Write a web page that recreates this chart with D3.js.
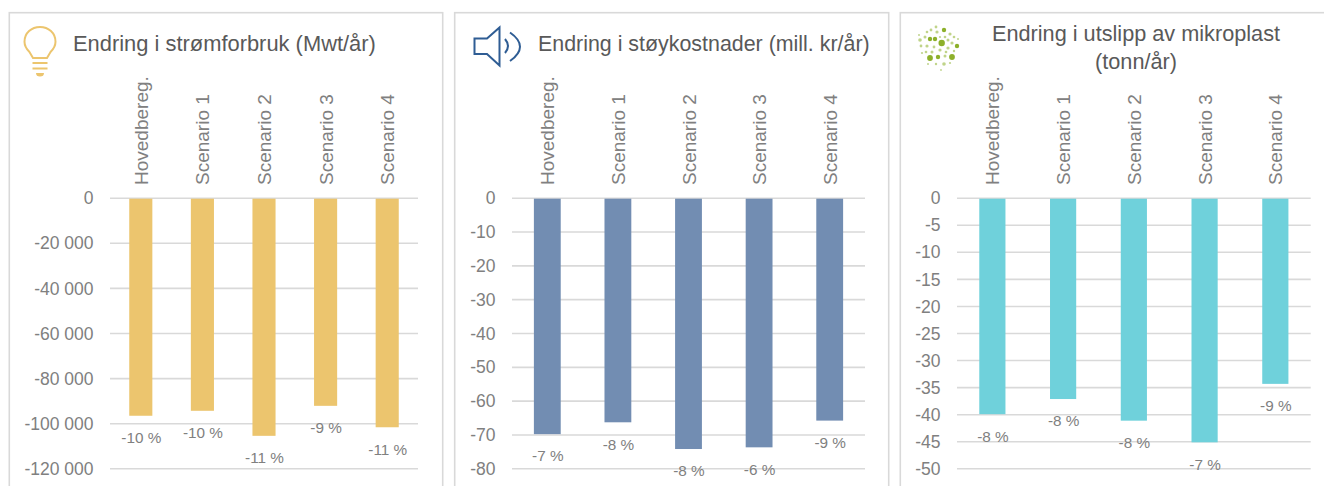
<!DOCTYPE html>
<html><head><meta charset="utf-8">
<script src="https://cdnjs.cloudflare.com/ajax/libs/d3/7.8.5/d3.min.js"></script>
<style>
html,body{margin:0;padding:0;background:#fff;overflow:hidden}
svg{display:block}
text{font-family:"Liberation Sans",Arial,sans-serif}
</style></head><body>
<svg id="c" width="1324" height="486">
<defs><filter id="soft" x="-10%" y="-10%" width="120%" height="120%"><feGaussianBlur stdDeviation="0.6"/></filter></defs>
</svg>
<script>
const categories = ["Hovedbereg.","Scenario 1","Scenario 2","Scenario 3","Scenario 4"];
const stromValues = [-96700,-94500,-105600,-92300,-101800];
const stoyValues = [-69.9,-66.4,-74.3,-73.8,-65.9];
const plastValues = [-40,-37.2,-41.2,-45.2,-34.4];
const stromPct = ["-10 %","-10 %","-11 %","-9 %","-11 %"];
const stoyPct = ["-7 %","-8 %","-8 %","-6 %","-9 %"];
const plastPct = ["-8 %","-8 %","-8 %","-7 %","-9 %"];
const stromTicks = [0,-20000,-40000,-60000,-80000,-100000,-120000];
const stoyTicks = [0,-10,-20,-30,-40,-50,-60,-70,-80];
const plastTicks = [0,-5,-10,-15,-20,-25,-30,-35,-40,-45,-50];

const svg = d3.select("#c");
const y0 = 197.7, y1 = 468.3;
const GRID="#D9D9D9", TICK="#808080", TITLE="#595959";
const fmt = v => d3.format(",")(v).replace(/,/g," ").replace("\u2212","-");

function panel(o){
  const g = svg.append("g");
  g.append("rect").attr("x",o.bx).attr("y",12.7).attr("width",o.bw).attr("height",520)
    .attr("fill","#fff").attr("stroke",GRID).attr("stroke-width",1.6);
  const x = d3.scaleBand().domain(categories).range([o.x0,o.x1]).paddingInner(o.pad).paddingOuter(o.pad/2);
  const y = d3.scaleLinear().domain([0,o.ticks[o.ticks.length-1]]).range([y0,y1]);
  const ax = g.append("g").attr("transform",`translate(${o.x0},0)`)
    .call(d3.axisLeft(y).tickValues(o.ticks).tickSize(-(o.x1-o.x0)).tickPadding(16.5).tickFormat(fmt));
  ax.select(".domain").remove();
  ax.selectAll(".tick line").attr("stroke",GRID).attr("stroke-width",1.6);
  ax.selectAll(".tick text").attr("fill",TICK).attr("font-size",17.5)
    .attr("font-family",'"Liberation Sans"').attr("dy","0.35em");
  g.append("g").selectAll("rect").data(o.values).join("rect")
    .attr("x",(d,i)=>x(categories[i])).attr("width",x.bandwidth())
    .attr("y",y0+1).attr("height",d=>y(d)-y0-1).attr("fill",o.color);
  g.append("g").selectAll("text").data(categories).join("text")
    .attr("transform",d=>`translate(${x(d)+x.bandwidth()/2+7},185) rotate(-90)`)
    .attr("fill",TICK).attr("font-size",19).text(d=>d);
  g.append("g").selectAll("text").data(o.values).join("text")
    .attr("x",(d,i)=>x(categories[i])+x.bandwidth()/2+0.5).attr("y",d=>y(d)+22)
    .attr("dy","0.35em").attr("text-anchor","middle").attr("fill",TICK).attr("font-size",15.3)
    .text((d,i)=>o.pct[i]);
  const t = g.append("text").attr("fill",TITLE).attr("font-size",o.tsize);
  o.title.forEach((s,i)=>t.append("tspan").attr("x",o.tx).attr("y",o.ty+i*28).text(s));
  if(o.anchor) t.attr("text-anchor",o.anchor);
  o.icon(g);
}

function bulb(g){
  const c="#ECC56E";
  const s=g.append("g").attr("fill","none").attr("stroke",c).attr("stroke-width",2);
  s.append("path").attr("d","M33 58 L29.5 52 C26 48.5 24.5 45.5 24.5 41.7 C24.5 33 31.5 27 40 27 C48.5 27 55.5 33 55.5 41.7 C55.5 45.5 54 48.5 50.5 52 L47 58 Z");
  s.append("path").attr("d","M32.5 63 H47.5 M32.5 68.5 H47.5");
  g.append("path").attr("d","M36 73 H44 A4 3.5 0 0 1 36 73 Z").attr("fill",c);
}
function speaker(g){
  const c="#2F5D94";
  const s=g.append("g").attr("fill","none").attr("stroke",c).attr("stroke-width",2);
  s.append("path").attr("d","M474.5 38.5 H487 L499.5 27.5 V65.5 L487 54 H474.5 Z");
  s.append("path").attr("d","M505 39 Q511 46 505 53 M510 32.5 Q530 46.5 510 61").attr("stroke-width",2);
}
const plastDots = [[941.7,44,3.2],[930,59,2.9],[952,58,2.9],[930,40,2.2],[935,40,2.2],[944,31,2.2],[957,47,2.2],[920,41,1.8],
  [938,58,2.2],[945,57,1.5],[925,38,1.5],[921,47,1.4],[927,47,1.6],[934,48,1.4],[940,51,1.6],[948,49,1.6],[952,44,1.6],[948,41,1.5],
  [937,33,1.6],[931,31,1.4],[927,33,1.3],[950,35,1.6],[954,38,1.3],[945,38,1.3],[936,28,1.4],[926,53,1.3],[932,53,1.5],[946,53,1.3],
  [954,52,1.2],[922,54,1.1],[944,65,1.8],[936,65,1.2],[950,64,1.1],[928,65,1.0],[941,71,0.9],[958,40,1.0],[919,36,1.0],[940,38,1.1]];
function plast(g){
  g.append("g").attr("filter","url(#soft)").selectAll("circle").data(plastDots).join("circle")
    .attr("cx",d=>d[0]).attr("cy",d=>d[1]-1).attr("r",d=>d[2])
    .attr("fill","#8DB02B").attr("opacity",d=>d[2]>2.1?1:0.55);
}

panel({bx:9.3,bw:433.4,x0:110,x1:418,pad:0.625,color:"#ECC56E",values:stromValues,pct:stromPct,ticks:stromTicks,
  title:["Endring i strømforbruk (Mwt/år)"],tx:73,ty:51,tsize:21.9,icon:bulb});
panel({bx:454.7,bw:434,x0:512,x1:865,pad:0.62,color:"#728DB2",values:stoyValues,pct:stoyPct,ticks:stoyTicks,
  title:["Endring i støykostnader (mill. kr/år)"],tx:538,ty:51,tsize:21.4,icon:speaker});
panel({bx:900.3,bw:440,x0:957,x1:1310.7,pad:0.63,color:"#6FD1DB",values:plastValues,pct:plastPct,ticks:plastTicks,
  title:["Endring i utslipp av mikroplast","(tonn/år)"],tx:1136,ty:41,tsize:21.7,anchor:"middle",icon:plast});
</script>
</body></html>
